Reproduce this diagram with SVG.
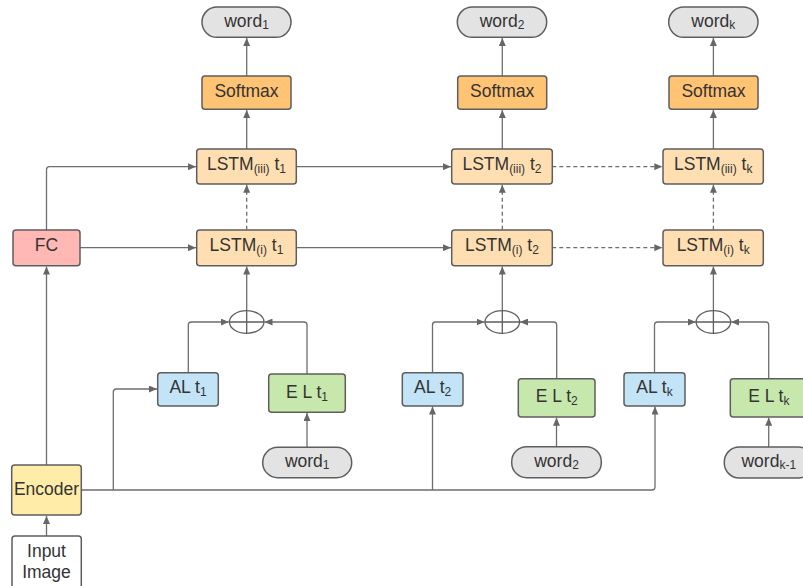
<svg xmlns="http://www.w3.org/2000/svg" width="803" height="586" viewBox="0 0 803 586">
<defs>
<marker id="ah" markerWidth="8" markerHeight="7" refX="8" refY="3.5" orient="auto" markerUnits="userSpaceOnUse"><path d="M0,0 L8,3.5 L0,7 z" fill="#666"/></marker>
<style>
.box{stroke:#5e5e5e;stroke-width:1.5}
.pill{fill:#e3e3e3}
.soft{fill:#ffc374}
.lstm{fill:#ffdfb1}
.fc{fill:#ffb8b3}
.al{fill:#c3e4f6}
.el{fill:#c7e8ad}
.enc{fill:#ffeca9}
.inp{fill:#ffffff}
.plus{fill:none;stroke:#5e5e5e;stroke-width:1.3}
text{font-family:"Liberation Sans",Arial,sans-serif;font-size:17.5px;fill:#333;text-anchor:middle}
.s{font-size:12px}
.c{fill:none;stroke:#6e6e6e;stroke-width:1.3;marker-end:url(#ah)}
.d{stroke-dasharray:4 3}
.ln{fill:none;stroke:#6e6e6e;stroke-width:1.3}
</style>
</defs>
<rect width="803" height="586" fill="#ffffff"/>

<g id="connectors">
<path class="c" d="M46.5,536 V516"/>
<path class="c" d="M46.5,465 V266.5"/>
<path class="c" d="M46.5,230 V169.7 Q46.5,166.7 49.5,166.7 H196"/>
<path class="c" d="M80,247.7 H196"/>
<path class="c" d="M81.3,490 H652 Q655,490 655,487 V406.5"/>
<path class="c" d="M113.3,490 V392 Q113.3,389 116.3,389 H157"/>
<path class="c" d="M432.5,490 V406.5"/>
<path class="c" d="M188.3,372.7 V325 Q188.3,322 191.3,322 H228.8"/>
<path class="c" d="M307,374 V325 Q307,322 304,322 H264.5"/>
<path class="c" d="M307,447.3 V413"/>
<path class="c" d="M246.7,310.7 V266.5"/>
<path class="c d" d="M246.7,229.7 V184.8"/>
<path class="c" d="M246.7,149 V110"/>
<path class="c" d="M246.7,76 V38"/>
<path class="c" d="M296.3,166.7 H451"/>
<path class="c" d="M296.3,247.7 H451"/>
<path class="c" d="M432.5,372.7 V325 Q432.5,322 435.5,322 H484.5"/>
<path class="c" d="M556.7,378.7 V325 Q556.7,322 553.7,322 H520"/>
<path class="c" d="M556.5,446.7 V417.7"/>
<path class="c" d="M502.3,310.7 V266.5"/>
<path class="c d" d="M502.3,229.7 V184.8"/>
<path class="c" d="M502.3,149 V110"/>
<path class="c" d="M502.3,76 V38"/>
<path class="c d" d="M552.3,166.7 H662.3"/>
<path class="c d" d="M552.3,247.7 H662.3"/>
<path class="c" d="M654.5,372.7 V325 Q654.5,322 657.5,322 H695.8"/>
<path class="c" d="M768.7,378.7 V325 Q768.7,322 765.7,322 H731.2"/>
<path class="c" d="M768.7,447 V417.7"/>
<path class="c" d="M713.4,310.7 V266.5"/>
<path class="c d" d="M713.4,229.7 V184.8"/>
<path class="c" d="M713.4,149 V110"/>
<path class="c" d="M713.4,76 V38"/>
</g>

<g id="word1_out"><rect class="box pill" x="202" y="7" width="89" height="30.3" rx="15"/><text x="246.5" y="26.5">word<tspan class="s" dy="2.5">1</tspan></text></g>
<g id="word2_out"><rect class="box pill" x="457.3" y="7" width="89.4" height="30.3" rx="15"/><text x="502" y="26.5">word<tspan class="s" dy="2.5">2</tspan></text></g>
<g id="wordk_out"><rect class="box pill" x="668.7" y="7" width="89.3" height="30.3" rx="15"/><text x="713.3" y="26.5">word<tspan class="s" dy="2.5">k</tspan></text></g>

<g id="softmax1"><rect class="box soft" x="202" y="76" width="89" height="33.3" rx="3"/><text x="246.5" y="96.7">Softmax</text></g>
<g id="softmax2"><rect class="box soft" x="457.7" y="76" width="89" height="33.3" rx="3"/><text x="502.2" y="96.7">Softmax</text></g>
<g id="softmaxk"><rect class="box soft" x="669" y="76" width="89" height="33.3" rx="3"/><text x="713.5" y="96.7">Softmax</text></g>

<g id="lstm3_1"><rect class="box lstm" x="196.7" y="149" width="99.6" height="35" rx="3"/><text x="246.5" y="170">LSTM<tspan class="s" dy="2.5">(iii)</tspan><tspan dy="-2.5"> t</tspan><tspan class="s" dy="2.5">1</tspan></text></g>
<g id="lstm3_2"><rect class="box lstm" x="451.7" y="149" width="100.6" height="35" rx="3"/><text x="502" y="170">LSTM<tspan class="s" dy="2.5">(iii)</tspan><tspan dy="-2.5"> t</tspan><tspan class="s" dy="2.5">2</tspan></text></g>
<g id="lstm3_k"><rect class="box lstm" x="663" y="149" width="100.3" height="35" rx="3"/><text x="713.2" y="170">LSTM<tspan class="s" dy="2.5">(iii)</tspan><tspan dy="-2.5"> t</tspan><tspan class="s" dy="2.5">k</tspan></text></g>

<g id="lstm1_1"><rect class="box lstm" x="196.7" y="230" width="99.6" height="35.7" rx="3"/><text x="246.5" y="251">LSTM<tspan class="s" dy="2.5">(i)</tspan><tspan dy="-2.5"> t</tspan><tspan class="s" dy="2.5">1</tspan></text></g>
<g id="lstm1_2"><rect class="box lstm" x="451.7" y="230" width="100.6" height="35.7" rx="3"/><text x="502" y="251">LSTM<tspan class="s" dy="2.5">(i)</tspan><tspan dy="-2.5"> t</tspan><tspan class="s" dy="2.5">2</tspan></text></g>
<g id="lstm1_k"><rect class="box lstm" x="663" y="230" width="100.3" height="35.7" rx="3"/><text x="713.2" y="251">LSTM<tspan class="s" dy="2.5">(i)</tspan><tspan dy="-2.5"> t</tspan><tspan class="s" dy="2.5">k</tspan></text></g>

<g id="fc"><rect class="box fc" x="13" y="230" width="67" height="35.7" rx="3"/><text x="46.5" y="250.5">FC</text></g>

<g id="sum1"><ellipse class="plus" cx="246.7" cy="322" rx="17.3" ry="11.3"/><path class="plus" d="M229.4,322 H264 M246.7,310.7 V333.3"/></g>
<g id="sum2"><ellipse class="plus" cx="502.3" cy="322" rx="17.3" ry="11.3"/><path class="plus" d="M485,322 H519.6 M502.3,310.7 V333.3"/></g>
<g id="sumk"><ellipse class="plus" cx="713.4" cy="322" rx="17.3" ry="11.3"/><path class="plus" d="M696.1,322 H730.7 M713.4,310.7 V333.3"/></g>

<g id="al1"><rect class="box al" x="157.7" y="372.7" width="60.6" height="33.3" rx="3"/><text x="188" y="393">AL t<tspan class="s" dy="3">1</tspan></text></g>
<g id="al2"><rect class="box al" x="402.3" y="372.7" width="60.7" height="33.3" rx="3"/><text x="432.7" y="393">AL t<tspan class="s" dy="3">2</tspan></text></g>
<g id="alk"><rect class="box al" x="624" y="372.7" width="61" height="33.3" rx="3"/><text x="654.5" y="393">AL t<tspan class="s" dy="3">k</tspan></text></g>

<g id="el1"><rect class="box el" x="268.7" y="374" width="76.6" height="38.3" rx="3"/><text x="307" y="397.5">E L t<tspan class="s" dy="3">1</tspan></text></g>
<g id="el2"><rect class="box el" x="518.3" y="378.7" width="76.7" height="38.3" rx="3"/><text x="556.7" y="402.2">E L t<tspan class="s" dy="3">2</tspan></text></g>
<g id="elk"><rect class="box el" x="730.3" y="378.7" width="77" height="38.3" rx="3"/><text x="768.8" y="402.2">E L t<tspan class="s" dy="3">k</tspan></text></g>

<g id="word1_in"><rect class="box pill" x="262.7" y="447.3" width="89" height="30.4" rx="15"/><text x="307.2" y="466.7">word<tspan class="s" dy="2.5">1</tspan></text></g>
<g id="word2_in"><rect class="box pill" x="511.7" y="446.7" width="89.6" height="31" rx="15"/><text x="556.5" y="466.5">word<tspan class="s" dy="2.5">2</tspan></text></g>
<g id="wordk1_in"><rect class="box pill" x="724.3" y="447" width="89" height="31" rx="15"/><text x="768.8" y="466.7">word<tspan class="s" dy="2.5">k-1</tspan></text></g>

<g id="encoder"><rect class="box enc" x="11.7" y="465" width="69.6" height="50" rx="3"/><text x="46.5" y="494.5">Encoder</text></g>
<g id="input_image"><rect class="box inp" x="12" y="536" width="69.3" height="60" rx="3"/><text x="46.5" y="556.7">Input</text><text x="46.5" y="578.3">Image</text></g>
</svg>
